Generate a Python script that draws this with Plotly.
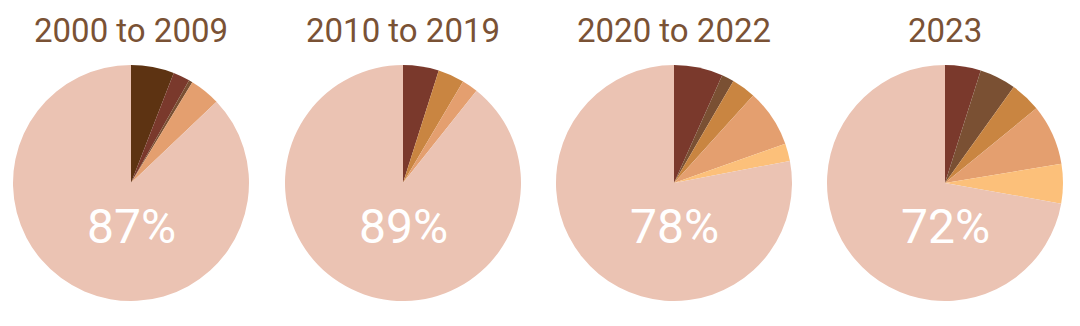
import plotly.graph_objects as go

periods = ["2000 to 2009", "2010 to 2019", "2020 to 2022", "2023"]
# slice categories per pie (clockwise from 12 o'clock), last one is the majority slice
cats_1 = ["A", "B", "C", "E", "G"]
vals_1 = [5.9, 2.3, 0.5, 4.2, 87.1]
cats_2 = ["B", "D", "E", "G"]
vals_2 = [4.9, 3.6, 2.2, 89.3]
cats_3 = ["B", "C", "D", "E", "F", "G"]
vals_3 = [6.7, 1.7, 3.3, 7.9, 2.4, 78.0]
cats_4 = ["B", "C", "D", "E", "F", "G"]
vals_4 = [4.9, 5.0, 4.2, 8.3, 5.4, 72.2]

palette = {
    "A": "#5d3312",
    "B": "#7a392c",
    "C": "#7a5033",
    "D": "#c98541",
    "E": "#e49f6f",
    "F": "#fcc07a",
    "G": "#ebc3b3",
}

W, H = 1080, 326
centers_px = [131, 403, 674, 945]
radius_px = 118
cy_px = 183

fig = go.Figure()
all_cats = [cats_1, cats_2, cats_3, cats_4]
all_vals = [vals_1, vals_2, vals_3, vals_4]
for i, (cats, vals) in enumerate(zip(all_cats, all_vals)):
    cx = centers_px[i]
    fig.add_trace(go.Pie(
        labels=cats, values=vals, sort=False, direction="clockwise", rotation=0,
        marker=dict(colors=[palette[c] for c in cats], line=dict(width=0)),
        textinfo="none", hoverinfo="label+value", showlegend=False,
        domain=dict(x=[(cx - radius_px) / W, (cx + radius_px) / W],
                    y=[(H - (cy_px + radius_px)) / H, (H - (cy_px - radius_px)) / H]),
    ))
    fig.add_annotation(x=cx / W, y=1 - 30 / H, xref="paper", yref="paper",
                       text=periods[i], showarrow=False,
                       font=dict(family="Roboto", size=33, color="#7a5235"),
                       xanchor="center", yanchor="middle")
    fig.add_annotation(x=cx / W, y=1 - 226 / H, xref="paper", yref="paper",
                       text=f"{round(vals[-1])}%", showarrow=False,
                       font=dict(family="Roboto", size=48, color="white"),
                       xanchor="center", yanchor="middle")

fig.update_layout(width=W, height=H, margin=dict(l=0, r=0, t=0, b=0),
                  paper_bgcolor="white", plot_bgcolor="white")
fig.write_html("out.html")
